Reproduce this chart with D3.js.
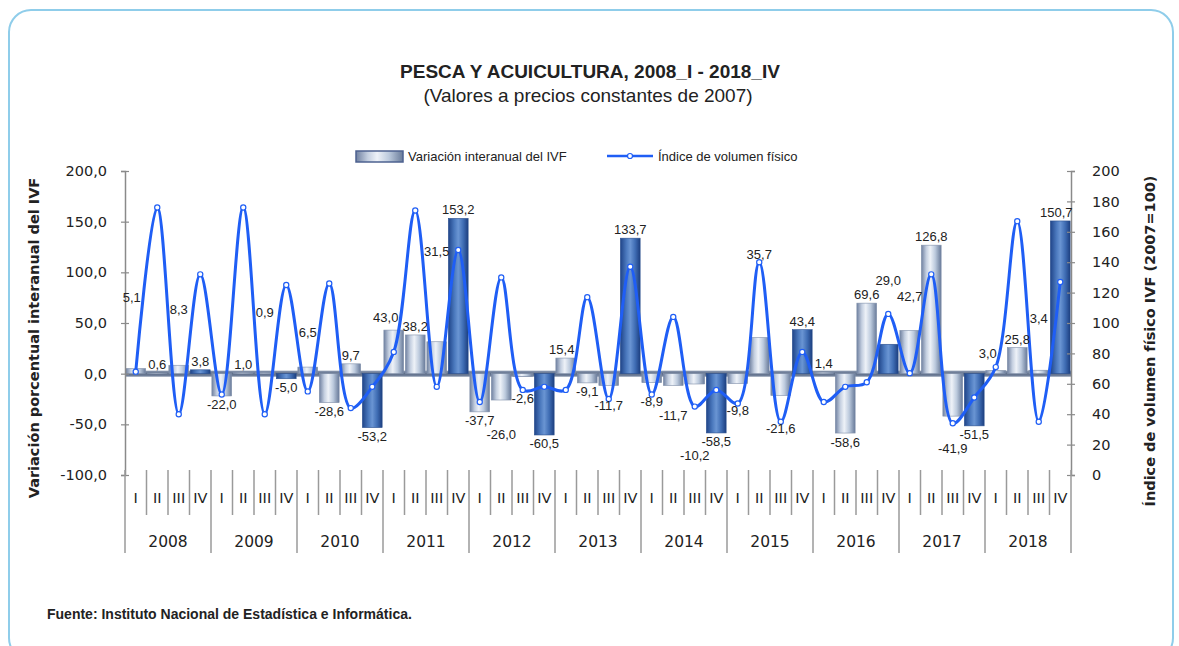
<!DOCTYPE html>
<html>
<head>
<meta charset="utf-8">
<script src="https://cdn.jsdelivr.net/npm/d3@7"></script>
<style>
  body { margin: 0; background: #fff; }
  text { fill: #222; }
</style>
</head>
<body>
<div id="chart"></div>
<script>
// data
var years = ["2008", "2009", "2010", "2011", "2012", "2013", "2014", "2015", "2016", "2017", "2018"];
var quarters = ["I", "II", "III", "IV"];

// variacion interanual del IVF (%), one value per quarter
var variacion = [
    5.1, 0.6, 8.3, 3.8,
    -22.0, 1.0, 0.9, -5.0,
    6.5, -28.6, 9.7, -53.2,
    43.0, 38.2, 31.5, 153.2,
    -37.7, -26.0, -2.6, -60.5,
    15.4, -9.1, -11.7, 133.7,
    -8.9, -11.7, -10.2, -58.5,
    -9.8, 35.7, -21.6, 43.4,
    1.4, -58.6, 69.6, 29.0,
    42.7, 126.8, -41.9, -51.5,
    3.0, 25.8, 3.4, 150.7
];

// indice de volumen fisico (2007=100)
var indice = [
    68, 176, 40, 132,
    53, 176, 40, 125,
    55, 126, 44, 58,
    81, 174, 58, 148,
    48, 130, 56, 58,
    56, 117, 50, 137,
    53, 104, 45, 56,
    47, 140, 35, 81,
    48, 58, 61, 106,
    67, 132, 34, 51,
    71, 167, 35, 127
];

var leftTicks = [-100, -50, 0, 50, 100, 150, 200];
var rightTicks = [0, 20, 40, 60, 80, 100, 120, 140, 160, 180, 200];

var periods = [];
years.forEach(function(y) {
    quarters.forEach(function(q) { periods.push(y + "_" + q); });
});

var W = 1179, H = 646;
var plot = { left: 125, right: 1071, top: 171, bottom: 475 };

var locale = d3.formatLocale({ decimal: ",", thousands: ".", grouping: [3], currency: ["", ""], minus: "-" });
var fmt1 = locale.format(".1f");

var narrow = "'Liberation Sans Narrow', 'Arial Narrow', 'Liberation Sans', Arial, sans-serif";
var tahoma = "'DejaVu Sans', Verdana, sans-serif";

var svg = d3.select("#chart").append("svg")
    .attr("width", W)
    .attr("height", H);

// gradients
var defs = svg.append("defs");
function hGrad(id, stops) {
    var g = defs.append("linearGradient").attr("id", id)
        .attr("x1", "0%").attr("x2", "100%").attr("y1", "0%").attr("y2", "0%");
    stops.forEach(function(s) {
        g.append("stop").attr("offset", s[0]).attr("stop-color", s[1]);
    });
}
hGrad("gLight", [["0%", "#6f80a0"], ["25%", "#c4cfe0"], ["45%", "#eef2f8"], ["70%", "#bccadd"], ["100%", "#687a99"]]);
hGrad("gDark", [["0%", "#1f4488"], ["30%", "#4a78bd"], ["50%", "#6a95d3"], ["75%", "#3f6db4"], ["100%", "#1d3f80"]]);
var fg = defs.append("linearGradient").attr("id", "gFloor")
    .attr("x1", "0%").attr("x2", "0%").attr("y1", "0%").attr("y2", "100%");
fg.append("stop").attr("offset", "0%").attr("stop-color", "#8d9bb2");
fg.append("stop").attr("offset", "50%").attr("stop-color", "#5d6d88");
fg.append("stop").attr("offset", "100%").attr("stop-color", "#7a89a2");

// panel border
svg.append("rect")
    .attr("x", 9).attr("y", 10)
    .attr("width", 1164).attr("height", 650)
    .attr("rx", 22)
    .attr("fill", "none")
    .attr("stroke", "#8fcdea")
    .attr("stroke-width", 2);

// scales
var x = d3.scaleBand()
    .domain(periods)
    .range([plot.left, plot.right])
    .paddingInner(0.08)
    .paddingOuter(0.04);

var yL = d3.scaleLinear().domain([-100, 200]).range([plot.bottom, plot.top]);
var yR = d3.scaleLinear().domain([0, 200]).range([plot.bottom, plot.top]);
var step = (plot.right - plot.left) / periods.length;

// titles
svg.append("text")
    .attr("x", 590).attr("y", 78)
    .attr("text-anchor", "middle")
    .style("font-family", narrow)
    .style("font-weight", "bold")
    .style("font-size", "19px")
    .text("PESCA Y ACUICULTURA, 2008_I - 2018_IV");

svg.append("text")
    .attr("x", 588).attr("y", 102)
    .attr("text-anchor", "middle")
    .style("font-family", narrow)
    .style("font-size", "19px")
    .text("(Valores a precios constantes de 2007)");

// legend
var legend = svg.append("g").attr("class", "legend")
    .style("font-family", narrow)
    .style("font-size", "13px");
legend.append("rect")
    .attr("x", 356).attr("y", 151).attr("width", 47).attr("height", 11)
    .attr("fill", "url(#gLight)")
    .attr("stroke", "#4d6290").attr("stroke-width", 1.5);
legend.append("text").attr("x", 408).attr("y", 161).text("Variación interanual del IVF");
legend.append("line")
    .attr("x1", 607).attr("x2", 653).attr("y1", 156).attr("y2", 156)
    .attr("stroke", "#1f5ef5").attr("stroke-width", 2.5);
legend.append("circle")
    .attr("cx", 630).attr("cy", 156).attr("r", 2.5)
    .attr("fill", "#fff").attr("stroke", "#1f5ef5").attr("stroke-width", 1.2);
legend.append("text").attr("x", 658).attr("y", 161).text("Índice de volumen físico");

// zero floor
svg.append("rect")
    .attr("x", plot.left).attr("y", yL(0) - 3)
    .attr("width", plot.right - plot.left).attr("height", 6)
    .attr("fill", "url(#gFloor)");

// bars
svg.append("g").selectAll(".bar")
    .data(variacion)
    .enter().append("rect")
    .attr("class", "bar")
    .attr("x", function(d, i) { return x(periods[i]); })
    .attr("width", x.bandwidth())
    .attr("y", function(d) { return d >= 0 ? yL(d) : yL(0); })
    .attr("height", function(d) { return Math.abs(yL(d) - yL(0)); })
    .attr("fill", function(d, i) { return i % 4 == 3 ? "url(#gDark)" : "url(#gLight)"; })
    .attr("stroke", function(d, i) { return i % 4 == 3 ? "#2a4f8e" : "#8190aa"; })
    .attr("stroke-width", 0.6);

// axes
function styleAxis(g) {
    g.select(".domain").attr("stroke", "#8a8a8a").attr("stroke-width", 1.5);
    g.selectAll(".tick line").attr("stroke", "#8a8a8a").attr("stroke-width", 1.2)
        .attr("x1", -4).attr("x2", 4);
    g.selectAll(".tick text")
        .style("font-family", tahoma)
        .style("font-size", "14.5px")
        .attr("fill", "#222");
}

svg.append("g")
    .attr("transform", "translate(" + plot.left + ",0)")
    .call(d3.axisLeft(yL).tickValues(leftTicks).tickFormat(fmt1).tickSizeOuter(0).tickSize(4).tickPadding(14))
    .call(styleAxis);

svg.append("g")
    .attr("transform", "translate(" + plot.right + ",0)")
    .call(d3.axisRight(yR).tickValues(rightTicks).tickFormat(d3.format("d")).tickSizeOuter(0).tickSize(4).tickPadding(17))
    .call(styleAxis);

// category axis: separators and labels
var cat = svg.append("g").attr("class", "categories");
periods.forEach(function(p, i) {
    var xl = plot.left + i * step;
    var isYear = i % 4 == 0;
    cat.append("line")
        .attr("x1", xl).attr("x2", xl)
        .attr("y1", 470).attr("y2", isYear ? 553 : 515)
        .attr("stroke", "#9a9a9a").attr("stroke-width", 1.5);
});
cat.append("line")
    .attr("x1", plot.right).attr("x2", plot.right)
    .attr("y1", 470).attr("y2", 553)
    .attr("stroke", "#9a9a9a").attr("stroke-width", 1.5);

cat.selectAll(".qlabel")
    .data(periods)
    .enter().append("text")
    .attr("class", "qlabel")
    .attr("x", function(p) { return x(p) + x.bandwidth() / 2; })
    .attr("y", 503)
    .attr("text-anchor", "middle")
    .style("font-family", tahoma)
    .style("font-size", "14.5px")
    .text(function(p) { return p.split("_")[1]; });

cat.selectAll(".ylabel")
    .data(years)
    .enter().append("text")
    .attr("class", "ylabel")
    .attr("x", function(y, i) { return plot.left + (i * 4 + 2) * step; })
    .attr("y", 547)
    .attr("text-anchor", "middle")
    .style("font-family", tahoma)
    .style("font-size", "15.5px")
    .text(function(y) { return y; });

// axis titles
svg.append("text")
    .attr("transform", "translate(39,338) rotate(-90)")
    .attr("text-anchor", "middle")
    .style("font-family", tahoma)
    .style("font-weight", "bold")
    .style("font-size", "14.5px")
    .text("Variación porcentual interanual del IVF");

svg.append("text")
    .attr("transform", "translate(1155,341) rotate(-90)")
    .attr("text-anchor", "middle")
    .style("font-family", tahoma)
    .style("font-weight", "bold")
    .style("font-size", "14.5px")
    .text("Índice de volumen físico IVF (2007=100)");

// line
var cx = function(i) { return x(periods[i]) + x.bandwidth() / 2; };
var line = d3.line()
    .x(function(d, i) { return cx(i); })
    .y(function(d) { return yR(d); })
    .curve(d3.curveCatmullRom.alpha(0.5));

var path = svg.append("path")
    .datum(indice)
    .attr("d", line)
    .attr("fill", "none")
    .attr("stroke", "#1f5ef5")
    .attr("stroke-width", 3);

svg.append("g").selectAll(".dot")
    .data(indice)
    .enter().append("circle")
    .attr("class", "dot")
    .attr("cx", function(d, i) { return cx(i); })
    .attr("cy", function(d) { return yR(d); })
    .attr("r", 2.6)
    .attr("fill", "#fff")
    .attr("stroke", "#1f5ef5")
    .attr("stroke-width", 1.2);

// sample the line so the labels can step out of its way
var pathNode = path.node();
var total = pathNode.getTotalLength();
var pts = [];
for (var l = 0; l <= total; l += 1) {
    var p = pathNode.getPointAtLength(l);
    pts.push([p.x, p.y]);
}
function hitsLine(b) {
    return pts.some(function(p) {
        return p[0] >= b[0] - 1.5 && p[0] <= b[2] + 1.5 && p[1] >= b[1] - 1.5 && p[1] <= b[3] + 1.5;
    });
}
function overlap(a, b) {
    return a[0] < b[2] && a[2] > b[0] && a[1] < b[3] && a[3] > b[1];
}

// boxes that labels must not cover: bars (a little narrowed) and labels already placed
var taken = variacion.map(function(v, i) {
    return [x(periods[i]) + 2, Math.min(yL(v), yL(0)), x(periods[i]) + x.bandwidth() - 2, Math.max(yL(v), yL(0))];
});
function clear(box) {
    if (box[0] < plot.left - 6 || box[2] > plot.right + 2) return false;
    if (hitsLine(box)) return false;
    return !taken.some(function(b) { return overlap(box, b); });
}
function keep(box) {
    taken.push([box[0] - 2, box[1] - 3, box[2] + 2, box[3] + 3]);
}

// data labels
var capH = 9.5;
var labels = svg.append("g")
    .style("font-family", narrow)
    .style("font-size", "13px");

var labelInfo = variacion.map(function(v, i) {
    var t = labels.append("text")
        .attr("text-anchor", "middle")
        .attr("fill", "#333")
        .text(fmt1(v));
    var w = t.node().getComputedTextLength();
    var up = v >= 0;
    var base0 = up ? yL(v) - 4 : yL(v) + 4 + capH;
    return { t: t, w: w, up: up, base0: base0, i: i, done: false };
});
function boxAt(li, xc, base) {
    return [xc - li.w / 2, base - capH, xc + li.w / 2, base + 0.5];
}

// pass 1: labels that fit at the bar end
labelInfo.forEach(function(li) {
    var box = boxAt(li, cx(li.i), li.base0);
    if (clear(box)) {
        keep(box);
        li.t.attr("x", cx(li.i)).attr("y", li.base0);
        li.done = true;
    }
});

// pass 2: the rest step outward (or sideways) off the line
labelInfo.filter(function(li) { return !li.done; }).forEach(function(li) {
    var best = null;
    for (var dy = 0; dy <= 115; dy++) {
        [0, -4, 4, -8, 8, -12, 12, -16, 16].forEach(function(dx) {
            var cost = dy + 5.5 * Math.abs(dx);
            if (best && best.cost <= cost) return;
            var xc = cx(li.i) + dx;
            var base = li.up ? li.base0 - dy : li.base0 + dy;
            var box = boxAt(li, xc, base);
            if (clear(box)) best = { cost: cost, x: xc, y: base, box: box };
        });
        if (best && best.cost <= dy) break;
    }
    if (!best) best = { x: cx(li.i), y: li.base0, box: boxAt(li, cx(li.i), li.base0) };
    keep(best.box);
    li.t.attr("x", best.x).attr("y", best.y);
});

// source
svg.append("text")
    .attr("x", 47).attr("y", 619)
    .style("font-family", narrow)
    .style("font-weight", "bold")
    .style("font-size", "14px")
    .text("Fuente: Instituto Nacional de Estadística e Informática.");
</script>
</body>
</html>
